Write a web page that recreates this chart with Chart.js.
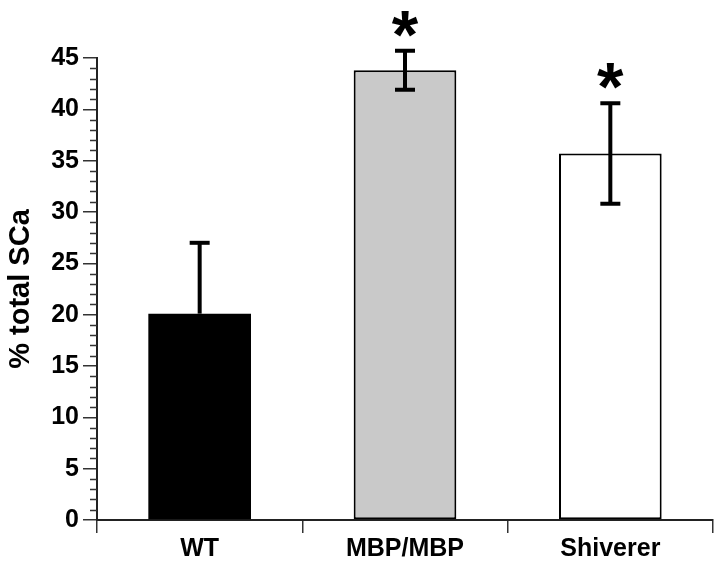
<!DOCTYPE html>
<html>
<head>
<meta charset="utf-8">
<script src="https://cdn.jsdelivr.net/npm/chart.js@4.4.1/dist/chart.umd.min.js"></script>
<style>
  html, body { margin: 0; padding: 0; background: #fff; }
  #wrap { width: 720px; height: 567px; position: relative; }
</style>
</head>
<body>
<div id="wrap"><canvas id="c" width="720" height="567"></canvas></div>
<script>
// ---- data ----
const categories = ['WT', 'MBP/MBP', 'Shiverer'];
const means = [20.1, 43.8, 35.7];
const errors = [6.9, 1.9, 4.9];
const showLowerError = [false, true, true];
const significant = [false, true, true];
const yTickLabels = [0, 5, 10, 15, 20, 25, 30, 35, 40, 45];
const yAxisTitle = '% total SCa';

const FONT = '"Liberation Sans", Arial, Helvetica, sans-serif';

const errorBarPlugin = {
  id: 'errorBars',
  afterDatasetsDraw(chart) {
    const ctx = chart.ctx;
    const meta = chart.getDatasetMeta(0);
    const y = chart.scales.y;
    ctx.save();
    ctx.strokeStyle = '#000';
    ctx.fillStyle = '#000';
    meta.data.forEach((bar, i) => {
      const x = bar.x;
      const top = y.getPixelForValue(means[i] + errors[i]);
      const bottom = showLowerError[i] ? y.getPixelForValue(means[i] - errors[i]) : y.getPixelForValue(means[i]);
      ctx.lineWidth = 4;
      ctx.beginPath();
      ctx.moveTo(x, top);
      ctx.lineTo(x, bottom);
      ctx.stroke();
      ctx.beginPath();
      ctx.moveTo(x - 10, top);
      ctx.lineTo(x + 10, top);
      if (showLowerError[i]) {
        ctx.moveTo(x - 10, bottom);
        ctx.lineTo(x + 10, bottom);
      }
      ctx.stroke();
      if (significant[i]) {
        ctx.font = 'bold 68px ' + FONT;
        ctx.textAlign = 'center';
        ctx.textBaseline = 'alphabetic';
        const m = ctx.measureText('*');
        const asc = m.actualBoundingBoxAscent, desc = m.actualBoundingBoxDescent;
        const cy = top - 27;
        ctx.fillText('*', x, cy + (asc - desc) / 2);
      }
    });
    ctx.restore();
  },
  afterDraw(chart) {
    const ctx = chart.ctx;
    const y = chart.scales.y;
    const xAxis = chart.chartArea.left;
    ctx.save();
    ctx.strokeStyle = '#333';
    ctx.lineWidth = 1.5;
    ctx.beginPath();
    for (let v = 0; v <= 45; v++) {
      if (v % 5 === 0) continue;
      const py = Math.round(y.getPixelForValue(v)) + 0.5;
      ctx.moveTo(xAxis - 7, py);
      ctx.lineTo(xAxis, py);
    }
    ctx.stroke();
    ctx.restore();
  }
};

new Chart(document.getElementById('c'), {
  type: 'bar',
  data: {
    labels: categories,
    datasets: [{
      data: means,
      backgroundColor: ['#000000', '#c9c9c9', '#ffffff'],
      borderColor: '#000',
      borderWidth: [0, 2, 2],
      borderSkipped: false,
      barPercentage: 0.5,
      categoryPercentage: 1.0
    }]
  },
  options: {
    responsive: false,
    animation: false,
    devicePixelRatio: 1,
    layout: { padding: { top: 58, right: 7, left: 0, bottom: 0 } },
    plugins: { legend: { display: false }, tooltip: { enabled: false } },
    scales: {
      x: {
        offset: true,
        grid: { display: true, drawOnChartArea: false, offset: true, tickLength: 13, color: '#333', lineWidth: 1.5 },
        border: { display: true, color: '#222', width: 2 },
        ticks: { color: '#000', font: { family: FONT, size: 25, weight: 'bold' }, padding: 1 },
        afterFit(scale) { scale.height = 47; }
      },
      y: {
        min: 0, max: 45,
        afterBuildTicks(scale) { scale.ticks = yTickLabels.map(v => ({ value: v })); },
        grid: { display: true, drawOnChartArea: false, tickLength: 14, color: '#333', lineWidth: 1.5 },
        border: { display: true, color: '#222', width: 2 },
        ticks: { color: '#000', font: { family: FONT, size: 25, weight: 'bold' }, padding: 4 },
        title: {
          display: true, text: yAxisTitle, color: '#000',
          font: { family: FONT, size: 29, weight: 'bold' },
          padding: { top: 4, bottom: 0 }
        },
        afterFit(scale) { scale.width = 97; }
      }
    }
  },
  plugins: [errorBarPlugin]
});
</script>
</body>
</html>
